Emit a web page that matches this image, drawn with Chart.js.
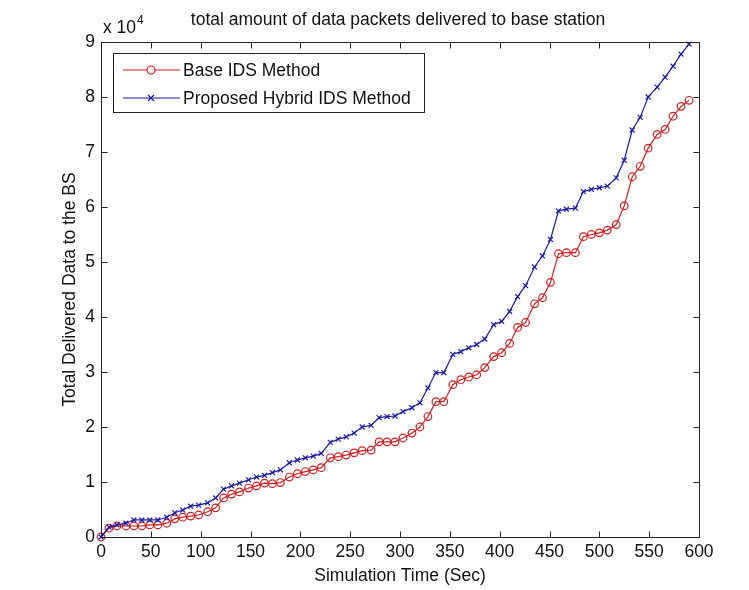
<!DOCTYPE html>
<html>
<head>
<meta charset="utf-8">
<script src="https://cdn.jsdelivr.net/npm/chart.js@4/dist/chart.umd.min.js"></script>
<style>
  html, body { margin: 0; padding: 0; background: #fff; }
  #wrap { width: 749px; height: 590px; position: relative; }
  canvas { display: block; }
</style>
</head>
<body>
<div id="wrap"><canvas id="c" width="749" height="590"></canvas></div>
<script>
// Simulation time (s) of each plotted sample
const times = [0,8,16,25,33,41,49,57,66,74,
  82,90,98,107,115,123,131,139,148,156,
  164,172,180,189,197,205,213,221,230,238,
  246,254,262,271,279,287,295,303,312,320,
  328,336,344,353,361,369,377,385,394,402,
  410,418,426,435,443,451,459,467,476,484,
  492,500,508,517,525,533,541,549,558,566,
  574,582,590];

// Total delivered data (x 10^4)
const baseIDS = [0,0.16,0.2,0.2,0.2,0.2,0.22,0.22,0.25,0.33,
  0.36,0.38,0.4,0.46,0.53,0.71,0.78,0.82,0.89,0.93,
  0.98,0.97,0.99,1.09,1.15,1.19,1.22,1.26,1.44,1.46,
  1.49,1.53,1.57,1.58,1.73,1.73,1.73,1.8,1.89,2.0,
  2.19,2.46,2.46,2.77,2.86,2.91,2.95,3.08,3.28,3.35,
  3.52,3.81,3.9,4.24,4.35,4.63,5.15,5.17,5.17,5.46,
  5.5,5.53,5.58,5.68,6.02,6.55,6.74,7.07,7.32,7.41,
  7.65,7.83,7.94];

const hybridIDS = [0,0.18,0.22,0.25,0.31,0.31,0.31,0.31,0.36,0.44,
  0.49,0.56,0.58,0.62,0.71,0.87,0.93,0.98,1.04,1.09,
  1.12,1.17,1.22,1.35,1.40,1.44,1.47,1.52,1.72,1.78,
  1.82,1.89,2.0,2.03,2.17,2.19,2.2,2.28,2.35,2.44,
  2.71,2.99,2.99,3.32,3.37,3.44,3.5,3.6,3.86,3.92,
  4.1,4.37,4.57,4.91,5.11,5.41,5.93,5.96,5.98,6.28,
  6.32,6.35,6.38,6.53,6.85,7.4,7.63,8.0,8.18,8.36,
  8.56,8.78,8.96];

const xTicks = [0,50,100,150,200,250,300,350,400,450,500,550,600];
const yTicks = [0,1,2,3,4,5,6,7,8,9];

const seriesNames = ['Base IDS Method', 'Proposed Hybrid IDS Method'];
const titleText = 'total amount of data packets delivered to base station';
const xTitle = 'Simulation Time (Sec)';
const yTitle = 'Total Delivered Data to the BS';

const RED = '#d01e1e';
const BLUE = '#1a1aa8';
const FONT = "'Liberation Sans', Arial, Helvetica, sans-serif";
const FS = 17.5;
const INK = '#111';

function pts(ys) { return times.map((t, i) => ({ x: t, y: ys[i] })); }

const decor = {
  id: 'decor',
  afterDraw(chart) {
    const ctx = chart.ctx;
    const a = chart.chartArea;
    const xs = chart.scales.x, ys = chart.scales.y;
    const L = Math.round(a.left) + 0.5, R = Math.round(a.right) + 0.5;
    const T = Math.round(a.top) + 0.5, B = Math.round(a.bottom) + 0.5;
    ctx.save();
    ctx.strokeStyle = '#222';
    ctx.lineWidth = 1;
    // box
    ctx.strokeRect(L, T, R - L, B - T);
    // inward ticks
    const tl = 6;
    ctx.beginPath();
    xTicks.forEach(v => {
      const px = Math.round(xs.getPixelForValue(v)) + 0.5;
      ctx.moveTo(px, B); ctx.lineTo(px, B - tl);
      ctx.moveTo(px, T); ctx.lineTo(px, T + tl);
    });
    yTicks.forEach(v => {
      const py = Math.round(ys.getPixelForValue(v)) + 0.5;
      ctx.moveTo(L, py); ctx.lineTo(L + tl, py);
      ctx.moveTo(R, py); ctx.lineTo(R - tl, py);
    });
    ctx.stroke();

    // texts
    ctx.fillStyle = INK;
    ctx.font = FS + 'px ' + FONT;
    ctx.textAlign = 'center';
    ctx.textBaseline = 'middle';
    ctx.fillText(titleText, 398, 20);
    ctx.fillText(xTitle, (a.left + a.right) / 2, 576);
    ctx.save();
    ctx.translate(70, (a.top + a.bottom) / 2);
    ctx.rotate(-Math.PI / 2);
    ctx.fillText(yTitle, 0, 0);
    ctx.restore();

    // exponent label
    ctx.textAlign = 'left';
    ctx.textBaseline = 'alphabetic';
    ctx.font = FS + 'px ' + FONT;
    ctx.fillText('x 10', 103, 33);
    const w = ctx.measureText('x 10').width;
    ctx.font = '12px ' + FONT;
    ctx.fillText('4', 103 + w + 1, 24);

    // legend
    const lx = 113.5, ly = 53.5, lw = 311, lh = 59;
    ctx.fillStyle = '#fff';
    ctx.fillRect(lx, ly, lw, lh);
    ctx.strokeStyle = '#222';
    ctx.strokeRect(lx, ly, lw, lh);
    const rows = [
      { name: seriesNames[0], color: RED, y: 70, marker: 'circle' },
      { name: seriesNames[1], color: BLUE, y: 98, marker: 'cross' }
    ];
    rows.forEach(r => {
      ctx.strokeStyle = r.color;
      ctx.lineWidth = 1.2;
      ctx.beginPath();
      ctx.moveTo(123, r.y); ctx.lineTo(180, r.y);
      ctx.stroke();
      if (r.marker === 'circle') {
        ctx.fillStyle = '#fff';
        ctx.beginPath(); ctx.arc(151, r.y, 4, 0, Math.PI * 2); ctx.fill(); ctx.stroke();
      } else {
        ctx.beginPath();
        ctx.moveTo(148, r.y - 3); ctx.lineTo(154, r.y + 3);
        ctx.moveTo(148, r.y + 3); ctx.lineTo(154, r.y - 3);
        ctx.stroke();
      }
      ctx.fillStyle = INK;
      ctx.font = FS + 'px ' + FONT;
      ctx.textAlign = 'left';
      ctx.textBaseline = 'middle';
      ctx.fillText(r.name, 183, r.y + 1);
    });
    ctx.restore();
  }
};

new Chart(document.getElementById('c'), {
  type: 'line',
  data: {
    datasets: [
      {
        label: seriesNames[0],
        data: pts(baseIDS),
        borderColor: RED,
        backgroundColor: 'rgba(255,255,255,0)',
        borderWidth: 1.2,
        pointStyle: 'circle',
        pointRadius: 3.8,
        pointBorderWidth: 1.2,
        pointBorderColor: RED,
        pointBackgroundColor: 'rgba(255,255,255,0)',
        tension: 0,
        clip: false,
        order: 2
      },
      {
        label: seriesNames[1],
        data: pts(hybridIDS),
        borderColor: BLUE,
        backgroundColor: 'rgba(255,255,255,0)',
        borderWidth: 1.2,
        pointStyle: 'crossRot',
        pointRadius: 3.5,
        pointBorderWidth: 1.2,
        pointBorderColor: BLUE,
        tension: 0,
        clip: false,
        order: 1
      }
    ]
  },
  options: {
    responsive: false,
    animation: false,
    devicePixelRatio: 1,
    layout: { padding: { left: 0, right: 50, top: 42, bottom: 0 } },
    plugins: {
      legend: { display: false },
      title: { display: false },
      tooltip: { enabled: false }
    },
    scales: {
      x: {
        type: 'linear',
        min: 0, max: 600,
        afterFit: s => { s.height = 53; },
        afterBuildTicks: s => { s.ticks = xTicks.map(v => ({ value: v })); },
        grid: { display: false, drawTicks: false },
        border: { display: false },
        ticks: {
          padding: 5,
          maxRotation: 0,
          autoSkip: false,
          color: INK,
          font: { family: FONT, size: FS }
        }
      },
      y: {
        type: 'linear',
        min: 0, max: 9,
        afterFit: s => { s.width = 101; },
        afterBuildTicks: s => { s.ticks = yTicks.map(v => ({ value: v })); },
        grid: { display: false, drawTicks: false },
        border: { display: false },
        ticks: {
          padding: 6,
          autoSkip: false,
          color: INK,
          font: { family: FONT, size: FS }
        }
      }
    }
  },
  plugins: [decor]
});
</script>
</body>
</html>
